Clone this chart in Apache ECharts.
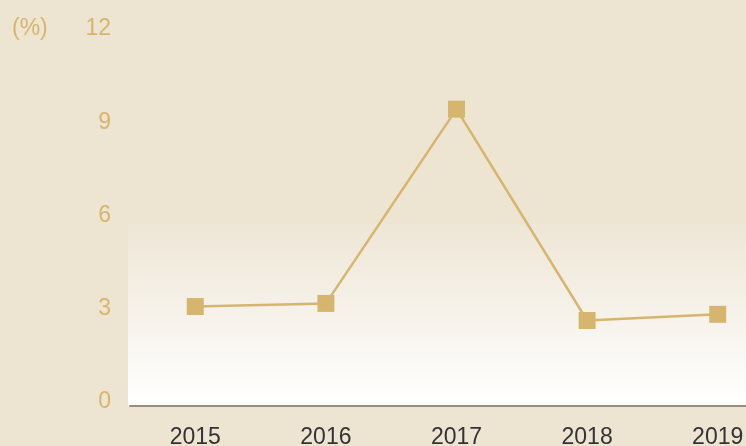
<!DOCTYPE html>
<html>
<head>
<meta charset="utf-8">
<script src="https://cdn.jsdelivr.net/npm/echarts@6/dist/echarts.min.js"></script>
<style>
  html, body { margin: 0; padding: 0; background: #EDE4D1; }
  #chart { width: 746px; height: 446px; }
</style>
</head>
<body>
<div id="chart"></div>
<script>
  // chart data
  var years = ['2015', '2016', '2017', '2018', '2019'];
  var rates = [3.2, 3.3, 9.55, 2.75, 2.95];
  var yTicks = [0, 3, 6, 9, 12];

  var FONT = 'Liberation Sans';
  var chart = echarts.init(document.getElementById('chart'));

  chart.setOption({
    backgroundColor: '#EDE4D1',
    animation: false,
    // soft white fade behind the lower part of the plot
    graphic: [{
      type: 'rect',
      z: -1,
      shape: { x: 128, y: 224, width: 618, height: 182 },
      style: {
        fill: new echarts.graphic.LinearGradient(0, 0, 0, 1, [
          { offset: 0, color: '#EEE6D6' },
          { offset: 1, color: '#FFFFFF' }
        ])
      }
    }, {
      type: 'text',
      left: 12,
      top: 17,
      style: { text: '(%)', fill: '#D8B56C', fontSize: 23, fontFamily: FONT }
    }],
    grid: { left: 130, width: 653, top: 33, bottom: 40, outerBoundsMode: 'none', containLabel: false },
    xAxis: {
      type: 'category',
      data: years,
      axisLine: { lineStyle: { color: '#9C8A7E', width: 2 } },
      axisTick: { show: false },
      axisLabel: { color: '#333333', fontSize: 23, fontFamily: FONT, margin: 20 }
    },
    yAxis: {
      type: 'value',
      min: yTicks[0],
      max: yTicks[yTicks.length - 1],
      interval: 3,
      axisLine: { show: false },
      axisTick: { show: false },
      splitLine: { show: false },
      axisLabel: {
        color: '#D8B56C', fontSize: 23, fontFamily: FONT, margin: 19,
        verticalAlign: 'bottom', lineHeight: 8
      }
    },
    series: [{
      type: 'line',
      data: rates,
      symbol: 'rect',
      symbolSize: 17,
      lineStyle: { color: '#D6B66E', width: 2.5 },
      itemStyle: { color: '#D6B66E' }
    }]
  });
</script>
</body>
</html>
